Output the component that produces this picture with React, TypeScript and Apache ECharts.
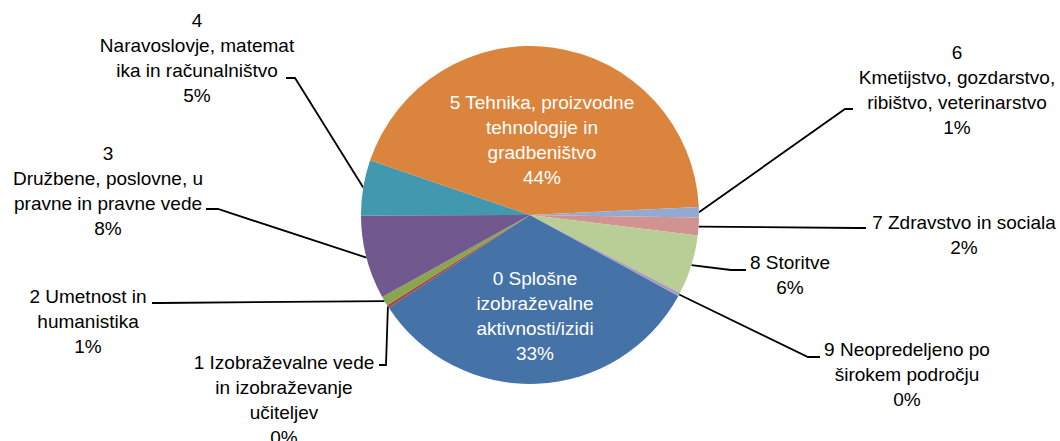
import React, { useEffect, useRef } from "react";
import * as echarts from "echarts";

const categories = [
  "0 Splošne\nizobraževalne\naktivnosti/izidi",
  "1 Izobraževalne vede\nin izobraževanje\nučiteljev",
  "2 Umetnost in\nhumanistika",
  "3\nDružbene, poslovne, u\npravne in pravne vede",
  "4\nNaravoslovje, matemat\nika in računalništvo",
  "5 Tehnika, proizvodne\ntehnologije in\ngradbeništvo",
  "6\nKmetijstvo, gozdarstvo,\nribištvo, veterinarstvo",
  "7 Zdravstvo in sociala",
  "8 Storitve",
  "9 Neopredeljeno po\nširokem področju",
];
const values = [32.8, 0.3, 0.9, 8.0, 5.3, 44.0, 1.0, 1.7, 5.7, 0.3];
const colors = [
  "#4572A7", "#AA4643", "#89A54E", "#71588F", "#4198AF",
  "#DB843D", "#93A9CF", "#D19392", "#B9CD96", "#A99BBD",
];
const insideIdx = [0, 5];

// label block centres and leader-line elbows (layout only)
const labelPos: Record<number, { x: number; y: number; elbow?: number[]; end?: number[] }> = {
  0: { x: 535, y: 316 },
  5: { x: 542, y: 140 },
  1: { x: 284, y: 400, elbow: [386, 365], end: [379, 365] },
  2: { x: 88, y: 321, elbow: [160, 303], end: [152, 303] },
  3: { x: 108, y: 191, elbow: [218, 209], end: [206, 209] },
  4: { x: 197, y: 58, elbow: [295, 78], end: [286, 78] },
  6: { x: 957, y: 90, elbow: [845, 109], end: [853, 109] },
  7: { x: 964, y: 235, elbow: [857, 228], end: [866, 228] },
  8: { x: 790, y: 275, elbow: [731, 270], end: [746, 270] },
  9: { x: 907, y: 374, elbow: [808, 357], end: [820, 357] },
};

export default function App() {
  const ref = useRef<HTMLDivElement>(null);
  useEffect(() => {
    document.body.style.margin = "0";
    if (!ref.current) return;
    const chart = echarts.init(ref.current, undefined, { renderer: "svg" });
    const total = values.reduce((a, b) => a + b, 0);
    const data = values.map((v, i) => {
      const inside = insideIdx.includes(i);
      return {
        name: categories[i],
        value: v,
        itemStyle: { color: colors[i] },
        label: inside
          ? { position: "inside", color: "#ffffff" }
          : { position: "outside", color: "#000000" },
        labelLine: { show: !inside },
      };
    });
    chart.setOption({
      animation: false,
      backgroundColor: "#ffffff",
      series: [
        {
          type: "pie",
          center: [530, 215],
          radius: 169,
          startAngle: -28.6,
          clockwise: true,
          avoidLabelOverlap: false,
          percentPrecision: 0,
          data,
          itemStyle: { borderWidth: 0 },
          emphasis: { disabled: true },
          label: {
            show: true,
            fontFamily: "Liberation Sans, Arial, sans-serif",
            fontSize: 19,
            lineHeight: 25,
            align: "center",
            formatter: (p: any) => `${p.name}\n${Math.round((p.value / total) * 100)}%`,
          },
          labelLine: {
            show: true,
            length: 10,
            length2: 10,
            lineStyle: { color: "#000000", width: 1.8 },
          },
          labelLayout: (params: any) => {
            const pos = labelPos[params.dataIndex];
            const out: any = {
              x: pos.x,
              y: pos.y,
              align: "center",
              verticalAlign: "middle",
            };
            if (pos.elbow && params.labelLinePoints) {
              out.labelLinePoints = [params.labelLinePoints[0], pos.elbow, pos.end];
            }
            return out;
          },
        },
      ],
    });
    return () => chart.dispose();
  }, []);
  return <div ref={ref} style={{ width: 1060, height: 441 }} />;
}
